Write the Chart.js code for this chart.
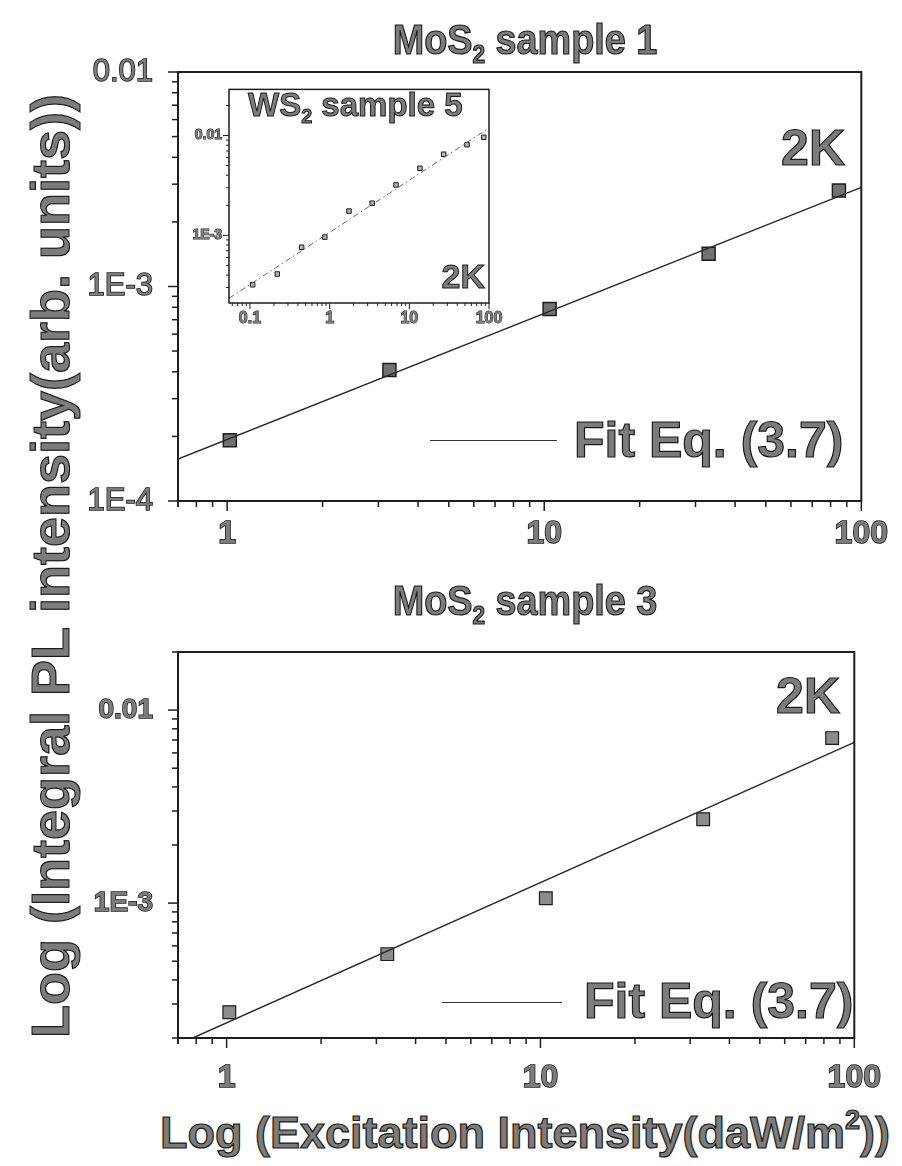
<!DOCTYPE html>
<html>
<head>
<meta charset="utf-8">
<script src="https://cdn.jsdelivr.net/npm/chart.js@4.4.0/dist/chart.umd.min.js"></script>
<style>
  body { margin: 0; background: #fff; }
  #fig { position: relative; width: 902px; height: 1166px; overflow: hidden; font-family: 'Liberation Sans', Arial, sans-serif; }
  canvas { position: absolute; }
  .t { position: absolute; font-weight: bold; color: #7c7c7c; -webkit-text-stroke: 1.2px #1a1a1a; white-space: nowrap; line-height: 1; }
  .t sub { font-size: 0.6em; vertical-align: -0.35em; line-height: 0; }
  .t sup { font-size: 0.6em; vertical-align: 0.7em; line-height: 0; }
  .head { left: 225px; width: 600px; text-align: center; font-size: 42px; transform: scaleX(0.9); }
  .key { position: absolute; height: 0; border-top: 1.5px solid #333; }
</style>
</head>
<body>
<div id="fig">
  <canvas id="top" width="902" height="560" style="left:0;top:0"></canvas>
  <canvas id="bottom" width="902" height="540" style="left:0;top:560px"></canvas>
  <canvas id="inset" width="340" height="260" style="left:170px;top:74px"></canvas>

  <div class="t head" style="top:19px">MoS<sub>2</sub> sample 1</div>
  <div class="t head" style="top:580px">MoS<sub>2</sub> sample 3</div>
  <div class="t" style="right:57px;top:123px;font-size:50px">2K</div>
  <div class="t" style="right:62px;top:671px;font-size:50px">2K</div>
  <div class="key" style="left:430px;width:127px;top:440px"></div>
  <div class="t" style="left:574px;top:415px;font-size:50px">Fit Eq. (3.7)</div>
  <div class="key" style="left:442px;width:120px;top:1002px"></div>
  <div class="t" style="left:584px;top:976px;font-size:50px">Fit Eq. (3.7)</div>
  <div class="t" style="left:248px;top:88px;font-size:33px;-webkit-text-stroke:1px #1a1a1a">WS<sub>2</sub> sample 5</div>
  <div class="t" style="right:417px;top:259px;font-size:34px;-webkit-text-stroke:1px #1a1a1a">2K</div>
  <div class="t" style="left:-450px;width:1000px;text-align:center;top:536px;height:60px;line-height:60px;font-size:54px;transform:rotate(-90deg)">Log (Integral PL intensity(arb. units))</div>
  <div class="t" style="left:125px;width:800px;text-align:center;top:1110px;font-size:45px">Log (Excitation Intensity(daW/m<sup>2</sup>))</div>
</div>
<script>
const excitation = [1.02, 3.25, 10.4, 33, 85];
const sample1PL = [1.92e-4, 4.08e-4, 7.85e-4, 1.42e-3, 2.8e-3];
const sample1FitX = [0.7, 100];
const sample1FitY = [1.57e-4, 2.9e-3];
const sample3PL = [2.72e-4, 5.44e-4, 1.06e-3, 2.72e-3, 7.16e-3];
const sample3FitX = [0.78, 100];
const sample3FitY = [2.0e-4, 6.8e-3];
const ws2Excitation = [0.108, 0.22, 0.445, 0.87, 1.75, 3.42, 6.8, 13.6, 27, 53, 86];
const ws2PL = [3.2e-4, 4.1e-4, 7.6e-4, 9.6e-4, 1.75e-3, 2.1e-3, 3.2e-3, 4.7e-3, 6.5e-3, 8.1e-3, 9.6e-3];
const ws2FitX = [0.0546, 100];
const ws2FitY = [2.34e-4, 1.19e-2];

// tick labels
const mainXTicks = [1, 10, 100];
const mainXLabels = ['1', '10', '100'];
const topYTicks = [1e-4, 1e-3, 1e-2];
const topYLabels = ['1E-4', '1E-3', '0.01'];
const bottomYTicks = [1e-3, 1e-2];
const bottomYLabels = ['1E-3', '0.01'];
const insetXTicks = [0.1, 1, 10, 100];
const insetXLabels = ['0.1', '1', '10', '100'];
const insetYTicks = [1e-3, 1e-2];
const insetYLabels = ['1E-3', '0.01'];

const FONT = "'Liberation Sans', Arial, sans-serif";

const isDecade = (v) => {
  const l = Math.log10(v);
  return Math.abs(l - Math.round(l)) < 1e-6;
};
const isWhole = (v) => {
  const e = Math.floor(Math.log10(v) + 1e-9);
  const s = v / Math.pow(10, e);
  return Math.abs(s - Math.round(s)) < 1e-6;
};
const labeller = (vals, labs) => (v) => {
  const i = vals.findIndex((t) => Math.abs(t - v) / t < 1e-6);
  return i < 0 ? '' : labs[i];
};
const pairs = (xs, ys) => xs.map((x, i) => ({ x, y: ys[i] }));

// box round the plot plus outward log ticks
const framePlugin = {
  id: 'frame',
  afterDraw(chart, args, opts) {
    const { ctx, chartArea: a } = chart;
    ctx.save();
    ctx.strokeStyle = '#1e1e1e';
    ctx.lineWidth = opts.width;
    ctx.strokeRect(a.left, a.top, a.right - a.left, a.bottom - a.top);
    ctx.lineWidth = opts.tickWidth;
    ['x', 'y'].forEach((id) => {
      const s = chart.scales[id];
      s.ticks.forEach((t) => {
        const len = isDecade(t.value) ? opts.major : opts.minor;
        const p = s.getPixelForValue(t.value);
        ctx.beginPath();
        if (id === 'x') {
          ctx.moveTo(p, a.bottom);
          ctx.lineTo(p, a.bottom + len);
        } else {
          ctx.moveTo(a.left, p);
          ctx.lineTo(a.left - len, p);
        }
        ctx.stroke();
      });
    });
    ctx.restore();
  },
};

function logChart(el, o) {
  return new Chart(document.getElementById(el), {
    type: 'scatter',
    data: {
      datasets: [
        {
          data: pairs(o.fitX, o.fitY),
          showLine: true,
          pointRadius: 0,
          borderColor: o.lineColor,
          borderWidth: o.lineWidth,
          borderDash: o.dash || [],
        },
        {
          data: pairs(o.x, o.y),
          pointStyle: 'rect',
          pointRadius: o.r,
          backgroundColor: o.fill,
          borderColor: '#1e1e1e',
          borderWidth: o.pointBorder,
        },
      ],
    },
    options: {
      responsive: false,
      animation: false,
      devicePixelRatio: 1,
      layout: { padding: { top: o.padTop, right: o.padRight, left: 0, bottom: 0 } },
      plugins: {
        legend: { display: false },
        tooltip: { enabled: false },
        frame: { width: o.frame, tickWidth: o.tickWidth, major: o.major, minor: o.minor },
      },
      scales: {
        x: {
          type: 'logarithmic',
          min: o.xMin,
          max: o.xMax,
          grid: { display: false, drawTicks: false },
          border: { display: false },
          afterBuildTicks: (s) => { s.ticks = s.ticks.filter((t) => isWhole(t.value)); },
          afterFit: (s) => { s.height = o.xHeight; },
          ticks: {
            autoSkip: false,
            maxRotation: 0,
            padding: o.xPad,
            color: '#7c7c7c',
            textStrokeColor: '#1a1a1a',
            textStrokeWidth: o.stroke,
            font: { family: FONT, size: o.xFont, weight: 'bold' },
            callback: labeller(o.xTicks, o.xLabels),
          },
        },
        y: {
          type: 'logarithmic',
          min: o.yMin,
          max: o.yMax,
          grid: { display: false, drawTicks: false },
          border: { display: false },
          afterBuildTicks: (s) => { s.ticks = s.ticks.filter((t) => isWhole(t.value)); },
          afterFit: (s) => { s.width = o.yWidth; },
          ticks: {
            autoSkip: false,
            padding: o.yPad,
            color: '#7c7c7c',
            textStrokeColor: '#1a1a1a',
            textStrokeWidth: o.stroke,
            font: { family: FONT, size: o.yFont, weight: o.yWeight },
            callback: labeller(o.yTicks, o.yLabels),
          },
        },
      },
    },
    plugins: [framePlugin],
  });
}

logChart('top', {
  x: excitation, y: sample1PL, fitX: sample1FitX, fitY: sample1FitY,
  xMin: 0.7, xMax: 100, yMin: 1e-4, yMax: 1e-2,
  xTicks: mainXTicks, xLabels: mainXLabels, yTicks: topYTicks, yLabels: topYLabels,
  padTop: 72, padRight: 35, xHeight: 59, yWidth: 178,
  xPad: 14, yPad: 25, xFont: 32, yFont: 31, yWeight: 'normal', stroke: 1.5,
  r: 9.2, fill: '#727272', pointBorder: 1.5, lineColor: '#2a2a2a', lineWidth: 1.4,
  frame: 2, tickWidth: 1.5, major: 10, minor: 6,
});

logChart('bottom', {
  x: excitation, y: sample3PL, fitX: sample3FitX, fitY: sample3FitY,
  xMin: 0.7, xMax: 100, yMin: 2e-4, yMax: 2e-2,
  xTicks: mainXTicks, xLabels: mainXLabels, yTicks: bottomYTicks, yLabels: bottomYLabels,
  padTop: 92, padRight: 33, xHeight: 62, yWidth: 178,
  xPad: 21, yPad: 25, xFont: 32, yFont: 28, yWeight: 'bold', stroke: 1.5,
  r: 9, fill: '#8c8c8c', pointBorder: 1.2, lineColor: '#2a2a2a', lineWidth: 1.4,
  frame: 2, tickWidth: 1.5, major: 10, minor: 6,
});

logChart('inset', {
  x: ws2Excitation, y: ws2PL, fitX: ws2FitX, fitY: ws2FitY,
  xMin: 0.0546, xMax: 100, yMin: 2.1e-4, yMax: 0.029,
  xTicks: insetXTicks, xLabels: insetXLabels, yTicks: insetYTicks, yLabels: insetYLabels,
  padTop: 6, padRight: 21, xHeight: 31, yWidth: 59,
  xPad: 6, yPad: 7, xFont: 16, yFont: 14, yWeight: 'bold', stroke: 1,
  r: 3.2, fill: '#b4b4b4', pointBorder: 1, lineColor: '#666', lineWidth: 1, dash: [6, 3, 1.5, 3],
  frame: 1.5, tickWidth: 1, major: 6, minor: 3,
});
</script>
</body>
</html>
